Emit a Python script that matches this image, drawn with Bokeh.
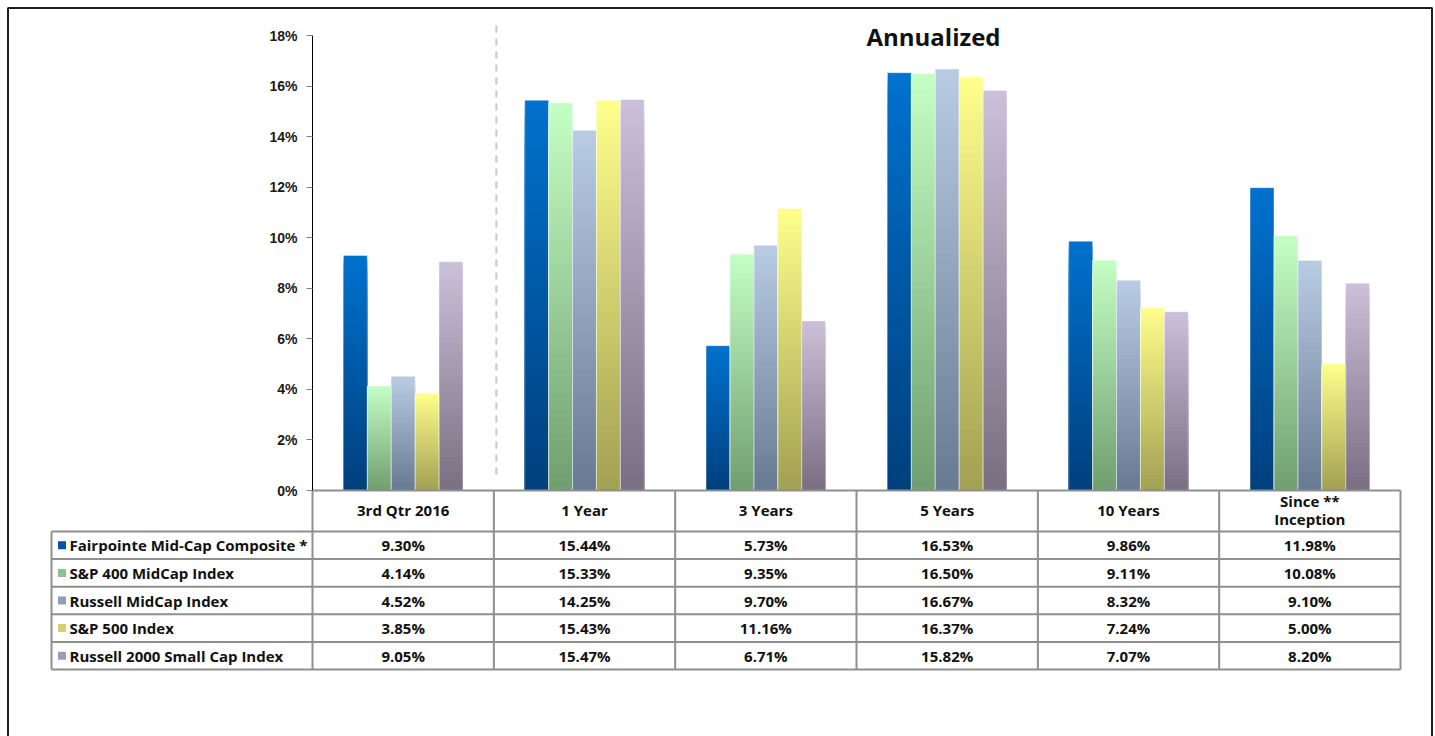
from bokeh.plotting import figure
from bokeh.models import Range1d, LinearAxis, FixedTicker, PrintfTickFormatter, ColumnDataSource
from bokeh.core.properties import value
from bokeh.embed import file_html
from bokeh.resources import INLINE

# ---------------- data ----------------
categories = ["3rd Qtr 2016", "1 Year", "3 Years", "5 Years", "10 Years", "Since **\nInception"]
series_names = ["Fairpointe Mid-Cap Composite *", "S&P 400 MidCap Index",
                "Russell MidCap Index", "S&P 500 Index", "Russell 2000 Small Cap Index"]
fairpointe = [9.30, 15.44, 5.73, 16.53, 9.86, 11.98]
sp400 = [4.14, 15.33, 9.35, 16.50, 9.11, 10.08]
russell_mid = [4.52, 14.25, 9.70, 16.67, 8.32, 9.10]
sp500 = [3.85, 15.43, 11.16, 16.37, 7.24, 5.00]
russell2000 = [9.05, 15.47, 6.71, 15.82, 7.07, 8.20]
y_ticks = [0, 2, 4, 6, 8, 10, 12, 14, 16, 18]
title_text = "Annualized"

series_values = [fairpointe, sp400, russell_mid, sp500, russell2000]

# ---------------- styles ----------------
top_colors = [(0, 114, 206), (196, 255, 196), (184, 204, 228), (255, 255, 140), (204, 192, 218)]
bottom_colors = [(0, 63, 125), (112, 158, 112), (104, 122, 146), (162, 160, 82), (122, 110, 130)]
legend_colors = ["#0056a3", "#8cc28c", "#8aa0bc", "#d2d070", "#a698b6"]
FONT = "Open Sans"
GRID = "#8f8f8f"

W, H = 1435, 736
X0, X1 = 312.0, 1400.0          # plot / table column span (px)
Y0, YTOP = 490.0, 35.0           # 0% and 18% (px)
K = (X1 - X0) / len(categories)  # px per category
PPU = (Y0 - YTOP) / 18.0         # px per percent

p = figure(width=W, height=H,
           x_range=Range1d(-X0 / K, (W - X0) / K),
           y_range=Range1d(-(H - Y0) / PPU, Y0 / PPU),
           x_axis_location=None, y_axis_location=None,
           toolbar_location=None, output_backend="svg",
           min_border=0, title=None)
p.extra_x_ranges = {"px_x": Range1d(0, W)}
p.extra_y_ranges = {"px_y": Range1d(H, 0)}
p.outline_line_color = None
p.background_fill_color = "white"
p.border_fill_color = "white"
p.grid.grid_line_color = None
p.grid.visible = False

PX = dict(x_range_name="px_x", y_range_name="px_y")

# outer border
p.quad(left=[7.5], right=[1431.5], top=[7.5], bottom=[760], fill_color=None,
       line_color="#1e1e1e", line_width=2, **PX)

# ---------------- bars with vertical gradient ----------------
bw = 23.9 / K
N = 48
seg = dict(left=[], right=[], bottom=[], top=[], color=[])
outl = dict(left=[], right=[], bottom=[], top=[])
for j, vals in enumerate(series_values):
    tc, bc = top_colors[j], bottom_colors[j]
    for i, v in enumerate(vals):
        xc = i + 0.5 + (j - 2) * bw
        l, r = xc - bw / 2, xc + bw / 2
        # painter's order: tallest (top colour) first, each shorter one over it
        for s in range(N, 0, -1):
            f = (s - 0.5) / N
            c = tuple(int(round(bc[q] + (tc[q] - bc[q]) * f)) for q in range(3))
            seg["left"].append(l); seg["right"].append(r)
            seg["bottom"].append(0); seg["top"].append(v * s / N)
            seg["color"].append("#%02x%02x%02x" % c)
        outl["left"].append(l); outl["right"].append(r)
        outl["bottom"].append(0); outl["top"].append(v)

p.quad(left="left", right="right", bottom="bottom", top="top", source=ColumnDataSource(seg),
       fill_color="color", line_color=None)
p.quad(left="left", right="right", bottom="bottom", top="top", source=ColumnDataSource(outl),
       fill_color=None, line_color="white", line_alpha=0.4, line_width=1)

# dashed separator between quarter and annualized periods
p.segment(x0=[X0 + K + 2.5], y0=[25], x1=[X0 + K + 2.5], y1=[480],
          line_color="#c8c8c8", line_width=2, line_dash="7 6", **PX)

# title
p.text(x=[933], y=[36], text=[title_text], text_font=value(FONT), text_font_style="bold",
       text_font_size="24px", text_align="center", text_baseline="middle",
       text_color="#111111", **PX)

# ---------------- y axis ----------------
yaxis = LinearAxis(fixed_location=0, bounds=(0, 18), ticker=FixedTicker(ticks=y_ticks),
                   formatter=PrintfTickFormatter(format="%d%%"))
yaxis.axis_line_color = "black"
yaxis.axis_line_width = 1
yaxis.major_tick_line_color = "#7f7f7f"
yaxis.major_tick_out = 6
yaxis.major_tick_in = 0
yaxis.minor_tick_line_color = None
yaxis.major_label_text_font = "Liberation Sans"
yaxis.major_label_text_font_style = "bold"
yaxis.major_label_text_font_size = "14px"
yaxis.major_label_text_color = "#1a1a1a"
yaxis.major_label_standoff = 9
p.add_layout(yaxis, "left")

# ---------------- data table ----------------
LX = 51.0
row_edges = [531.0, 558.6, 586.2, 613.8, 641.4, 669.0]
col_edges = [X0 + i * K for i in range(len(categories) + 1)]

hx0, hy0, hx1, hy1 = [], [], [], []
hx0.append(X0); hx1.append(X1); hy0.append(Y0); hy1.append(Y0)
for ry in row_edges:
    hx0.append(LX); hx1.append(X1); hy0.append(ry); hy1.append(ry)
for cx in col_edges:
    hx0.append(cx); hx1.append(cx); hy0.append(Y0); hy1.append(row_edges[-1])
hx0.append(LX); hx1.append(LX); hy0.append(row_edges[0]); hy1.append(row_edges[-1])
p.segment(x0=hx0, y0=hy0, x1=hx1, y1=hy1, line_color=GRID, line_width=2, **PX)

TXT = dict(text_font=value(FONT), text_font_style="bold", text_font_size="15px",
           text_color="#111111", text_baseline="middle", **PX)

# header labels
p.text(x=[X0 + (i + 0.5) * K for i in range(len(categories))],
       y=[(Y0 + row_edges[0]) / 2 - 1] * len(categories),
       text=categories, text_align="center", text_line_height=0.88, **TXT)

row_c = [(row_edges[r] + row_edges[r + 1]) / 2 for r in range(len(series_names))]
# legend squares and names
p.rect(x=[61.5] * len(series_names), y=row_c, width=8, height=8,
       fill_color=legend_colors, line_color=None, **PX)
p.text(x=[69] * len(series_names), y=row_c, text=series_names, text_align="left", **TXT)

# values
vx, vy, vt = [], [], []
for r, vals in enumerate(series_values):
    for i, v in enumerate(vals):
        vx.append(X0 + (i + 0.5) * K); vy.append(row_c[r]); vt.append("%.2f%%" % v)
p.text(x=vx, y=vy, text=vt, text_align="center", **TXT)

open("out.html", "w").write(file_html(p, INLINE))
